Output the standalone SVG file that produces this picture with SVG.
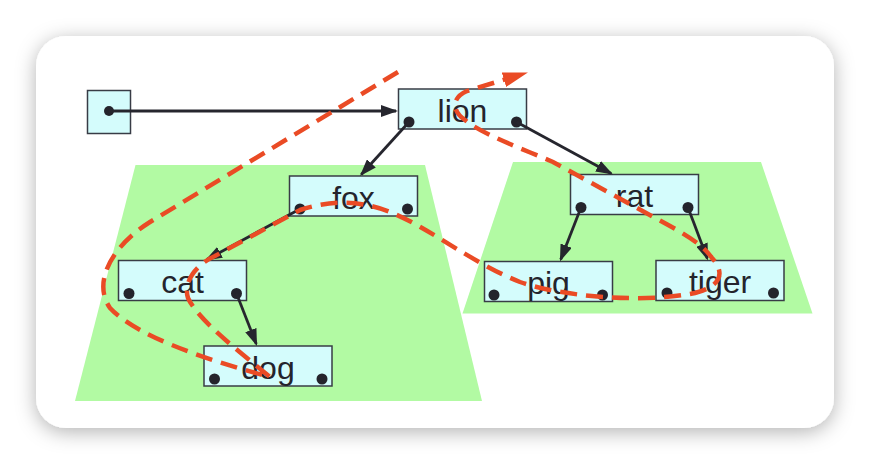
<svg xmlns="http://www.w3.org/2000/svg" width="870" height="464" viewBox="0 0 870 464">
<defs>
<filter id="sh" x="-10%" y="-15%" width="120%" height="130%">
<feDropShadow dx="0" dy="4" stdDeviation="10" flood-color="#000" flood-opacity="0.3"/>
</filter>
<marker id="ah" markerUnits="userSpaceOnUse" markerWidth="17" markerHeight="12" refX="15" refY="6" orient="auto">
<path d="M0,0 L17,6 L0,12 z" fill="#26262e"/>
</marker>
<marker id="oh" markerUnits="userSpaceOnUse" markerWidth="25" markerHeight="15" refX="23" refY="7.5" orient="auto">
<path d="M0,0 L25,7.5 L0,15 z" fill="#ea4b25"/>
</marker>
</defs>
<style>
.box{fill:#d4fcfc;stroke:#383c46;stroke-width:1.5}
.dot{fill:#24242c}
.lbl{font-family:"Liberation Sans",Arial,sans-serif;font-size:32px;fill:#24242c;text-anchor:middle}
.tri{fill:#b2faa3}
.edge{stroke:#26262e;stroke-width:2.8;fill:none;marker-end:url(#ah)}
.tour{stroke:#ea4b25;stroke-width:4.5;fill:none;stroke-dasharray:17 9;marker-end:url(#oh)}
</style>
<rect x="0" y="0" width="870" height="464" fill="#ffffff"/>
<rect x="36" y="36" width="798" height="392" rx="30" ry="30" fill="#ffffff" filter="url(#sh)"/>
<g id="subtrees">
<polygon class="tri" points="135.5,165 425,165 482,401 75,401"/>
<polygon class="tri" points="513,162 761,162 812.5,313.5 462.5,313.5"/>
</g>
<g id="root">
<rect class="box" x="87.5" y="90.5" width="43" height="43"/>
<circle class="dot" cx="109" cy="111" r="5"/>
</g>
<g id="lion">
<rect class="box" x="398.5" y="89" width="128" height="40"/>
<text class="lbl" x="462.5" y="121.5">lion</text>
<circle class="dot" cx="409" cy="122" r="5.5"/><circle class="dot" cx="516.5" cy="122" r="5.5"/>
</g>
<g id="fox">
<rect class="box" x="289.5" y="176" width="128" height="40"/>
<text class="lbl" x="353.5" y="208.5">fox</text>
<circle class="dot" cx="300" cy="209" r="5.5"/><circle class="dot" cx="407.5" cy="209" r="5.5"/>
</g>
<g id="cat">
<rect class="box" x="118.5" y="260.5" width="128" height="40"/>
<text class="lbl" x="182.5" y="293">cat</text>
<circle class="dot" cx="129" cy="293.5" r="5.5"/><circle class="dot" cx="236.5" cy="293.5" r="5.5"/>
</g>
<g id="dog">
<rect class="box" x="204" y="346" width="128" height="40"/>
<text class="lbl" x="268" y="378.5">dog</text>
<circle class="dot" cx="214.5" cy="379" r="5.5"/><circle class="dot" cx="322" cy="379" r="5.5"/>
</g>
<g id="rat">
<rect class="box" x="570.5" y="174.5" width="128" height="40"/>
<text class="lbl" x="634.5" y="207">rat</text>
<circle class="dot" cx="581" cy="207.5" r="5.5"/><circle class="dot" cx="688" cy="207.5" r="5.5"/>
</g>
<g id="pig">
<rect class="box" x="484.5" y="261.5" width="128" height="40"/>
<text class="lbl" x="548.5" y="294">pig</text>
<circle class="dot" cx="494" cy="295" r="5.5"/><circle class="dot" cx="602.5" cy="295" r="5.5"/>
</g>
<g id="tiger">
<rect class="box" x="656" y="260.5" width="128" height="40"/>
<text class="lbl" x="720" y="293">tiger</text>
<circle class="dot" cx="667" cy="293" r="5.5"/><circle class="dot" cx="773.5" cy="293" r="5.5"/>
</g>
<g id="connectors">
<line class="edge" x1="109" y1="111" x2="396" y2="111"/>
<line class="edge" x1="409" y1="122" x2="361.3" y2="174.5"/>
<line class="edge" x1="516.5" y1="122" x2="611.2" y2="173.5"/>
<line class="edge" x1="300" y1="209" x2="206.8" y2="259.5"/>
<line class="edge" x1="236.5" y1="293.5" x2="256.3" y2="344.1"/>
<line class="edge" x1="581" y1="207.5" x2="560.7" y2="259.6"/>
<line class="edge" x1="688" y1="207.5" x2="707.3" y2="258.6"/>
<path class="tour" d="M398,72 L150,222 C112,246 92,282 110,308 C135,335 200,358 270,377 C240,352 198,320 188,298 C183,283 195,265 215,256 L300,210 C330,200 360,200 390,212 C430,228 470,262 520,282 C560,296 640,304 695,293 C722,286 725,272 712,258 C705,248 695,240 670,226 L553,162 C520,148 480,133 465,120 C452,111 451,98 467,91 L526,73"/>
</g>
</svg>
